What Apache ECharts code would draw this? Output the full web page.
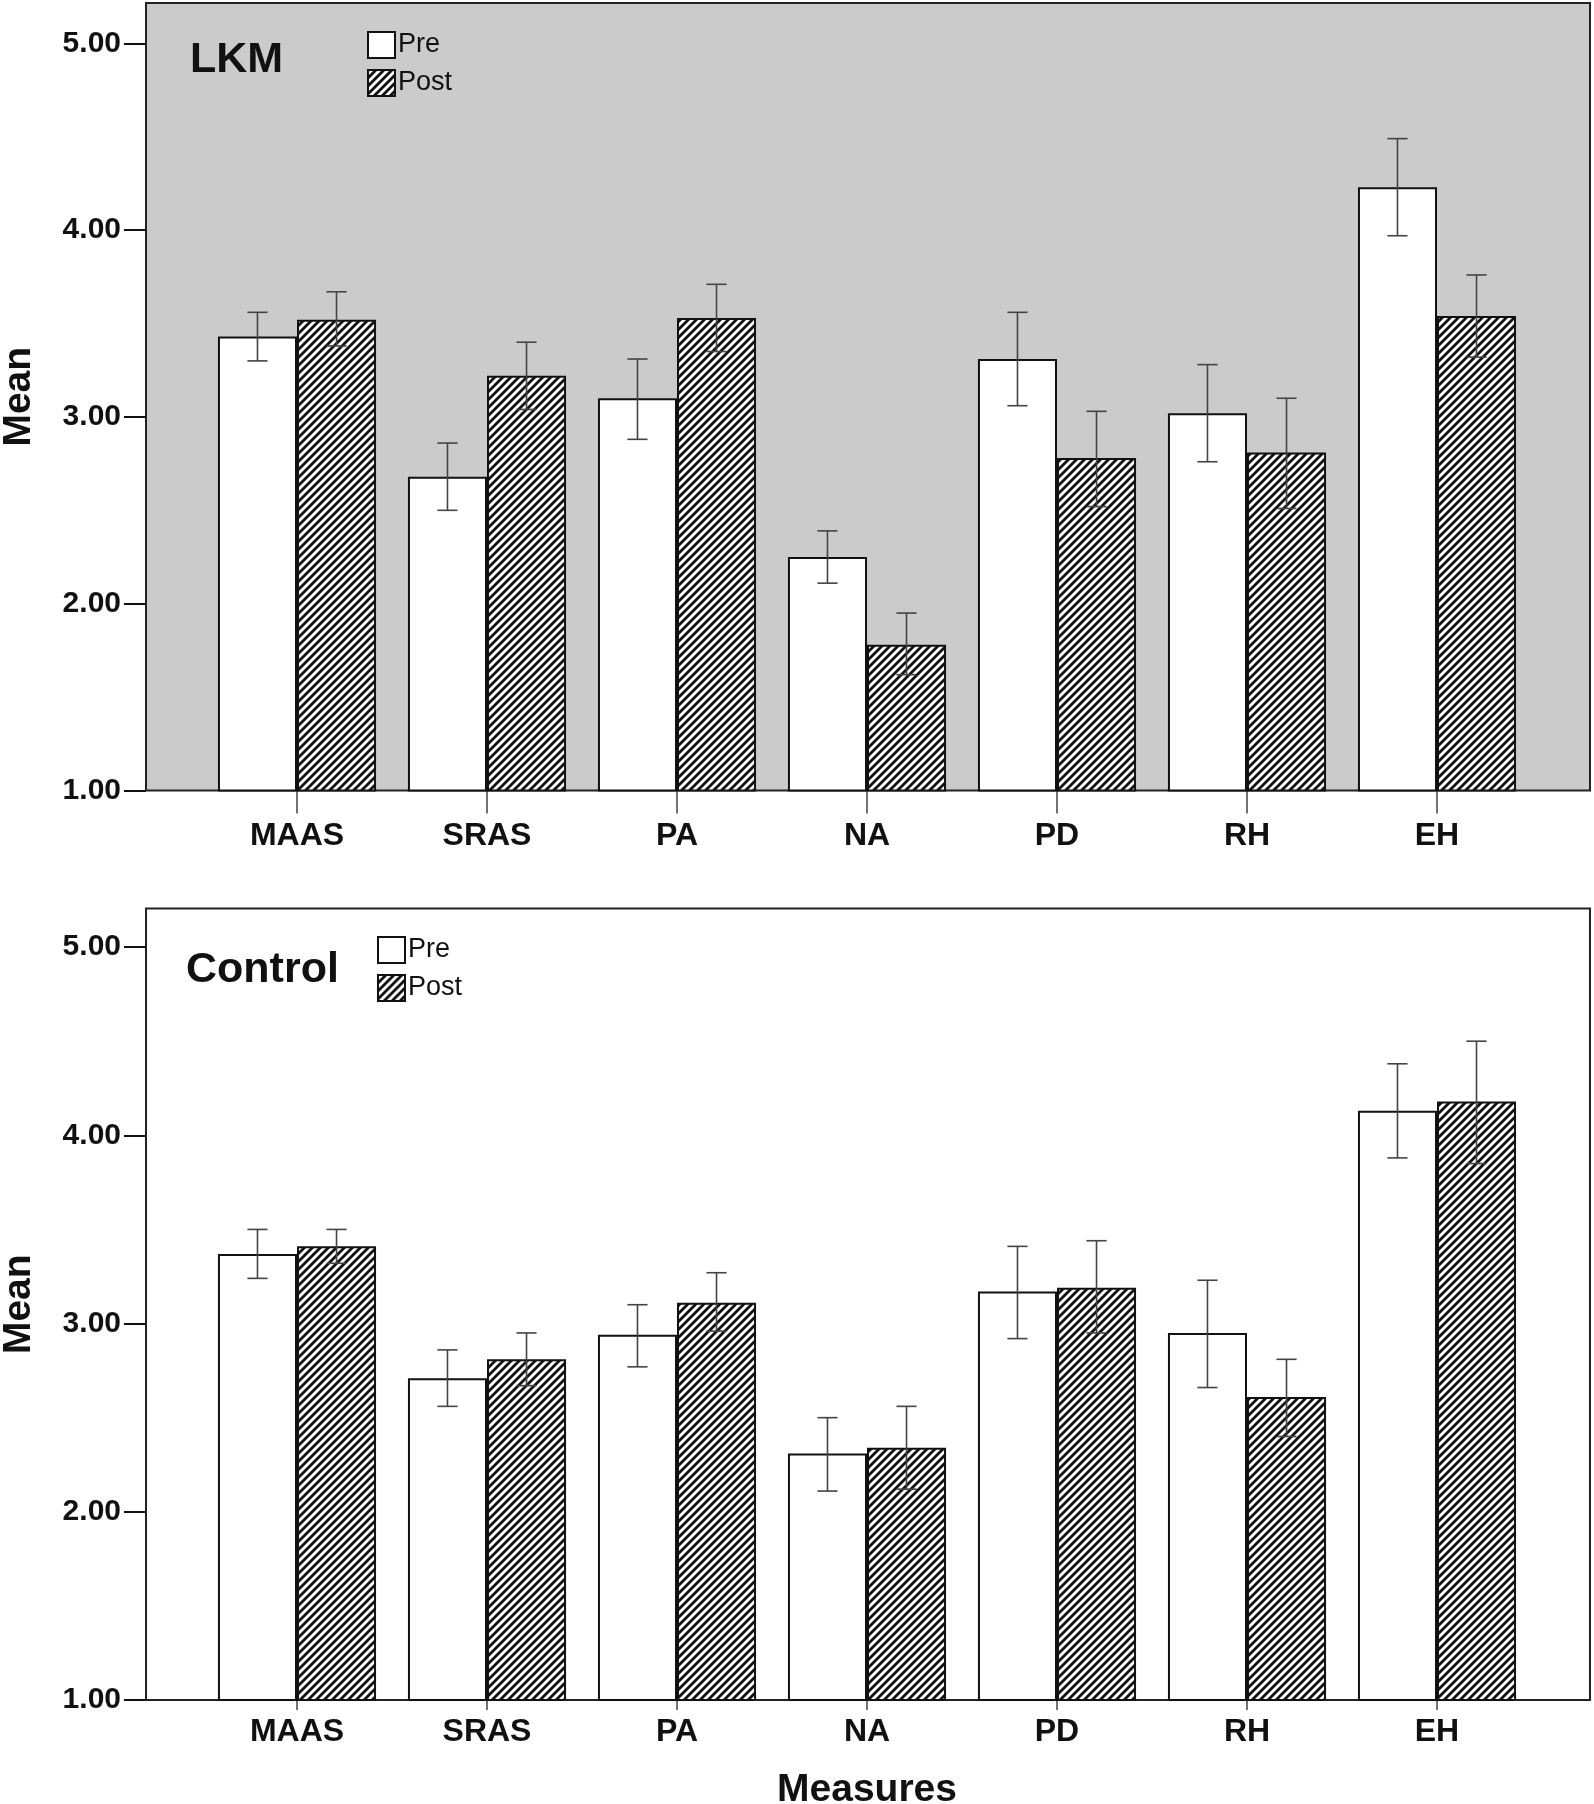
<!DOCTYPE html>
<html>
<head>
<meta charset="utf-8">
<script src="https://cdn.jsdelivr.net/npm/echarts@6/dist/echarts.min.js"></script>
<style>
html,body{margin:0;padding:0;background:#fff;}
#chart{width:1594px;height:1804px;}
</style>
</head>
<body>
<div id="chart"></div>
<script>
// ---------- data ----------
const categories = ['MAAS', 'SRAS', 'PA', 'NA', 'PD', 'RH', 'EH'];
const yTicks = [1, 2, 3, 4, 5];

const lkmPre      = [3.43, 2.68, 3.10, 2.25, 3.31, 3.02, 4.23];
const lkmPreLow   = [3.30, 2.50, 2.88, 2.11, 3.06, 2.76, 3.97];
const lkmPreHigh  = [3.56, 2.86, 3.31, 2.39, 3.56, 3.28, 4.49];
const lkmPost     = [3.52, 3.22, 3.53, 1.78, 2.78, 2.81, 3.54];
const lkmPostLow  = [3.38, 3.04, 3.35, 1.62, 2.52, 2.51, 3.32];
const lkmPostHigh = [3.67, 3.40, 3.71, 1.95, 3.03, 3.10, 3.76];

const ctlPre      = [3.37, 2.71, 2.94, 2.31, 3.17, 2.95, 4.13];
const ctlPreLow   = [3.24, 2.56, 2.77, 2.11, 2.92, 2.66, 3.88];
const ctlPreHigh  = [3.50, 2.86, 3.10, 2.50, 3.41, 3.23, 4.38];
const ctlPost     = [3.41, 2.81, 3.11, 2.34, 3.19, 2.61, 4.18];
const ctlPostLow  = [3.32, 2.67, 2.96, 2.12, 2.95, 2.40, 3.85];
const ctlPostHigh = [3.50, 2.95, 3.27, 2.56, 3.44, 2.81, 4.50];

// ---------- styling ----------
const FONT = '"Liberation Sans", Arial, sans-serif';
const BAR_FRAC = 0.416;           // bar width as fraction of category band
const TOP_MAX = 5.216, BOT_MAX = 5.205;

// hatch pattern for "Post"
const hatch = document.createElement('canvas');
hatch.width = 8; hatch.height = 8;
(function () {
  const c = hatch.getContext('2d');
  c.fillStyle = '#ffffff'; c.fillRect(0, 0, 8, 8);
  c.strokeStyle = '#111111'; c.lineWidth = 2.8; c.lineCap = 'square';
  for (let k = -8; k <= 8; k += 8) {
    c.beginPath(); c.moveTo(k - 1, 9); c.lineTo(k + 9, -1); c.stroke();
  }
})();
const hatchFill = { image: hatch, repeat: 'repeat' };

function errSeries(name, xi, yi, low, high, side) {
  return {
    type: 'custom', name: name, xAxisIndex: xi, yAxisIndex: yi, z: 5,
    silent: true,
    data: categories.map((c, i) => [i, low[i], high[i]]),
    renderItem: function (params, api) {
      const band = api.size([1, 0])[0];
      const off = side * band * BAR_FRAC / 2;
      const capHalf = band * 0.053;
      const lo = api.coord([api.value(0), api.value(1)]);
      const hi = api.coord([api.value(0), api.value(2)]);
      const x = lo[0] + off;
      const st = { stroke: '#444', lineWidth: 1.6 };
      return {
        type: 'group',
        children: [
          { type: 'line', shape: { x1: x, y1: lo[1], x2: x, y2: hi[1] }, style: st },
          { type: 'line', shape: { x1: x - capHalf, y1: hi[1], x2: x + capHalf, y2: hi[1] }, style: st },
          { type: 'line', shape: { x1: x - capHalf, y1: lo[1], x2: x + capHalf, y2: lo[1] }, style: st }
        ]
      };
    }
  };
}

function barSeries(name, xi, yi, values, fill) {
  return {
    type: 'bar', name: name, xAxisIndex: xi, yAxisIndex: yi,
    data: values, barWidth: (BAR_FRAC * 100) + '%', barGap: '0%',
    itemStyle: { color: fill, borderColor: '#111', borderWidth: 2 },
    z: 2
  };
}

function frameY(gridIndex, max) {
  return {
    gridIndex: gridIndex, type: 'value', min: 1, max: max,
    name: 'Mean', nameLocation: 'middle', nameGap: 107,
    nameTextStyle: { fontFamily: FONT, fontWeight: 'bold', fontSize: 39, color: '#111' },
    axisLine: { show: false },
    splitLine: { show: false },
    axisTick: { show: true, length: 22, customValues: yTicks, lineStyle: { color: '#111', width: 2 } },
    axisLabel: {
      show: true, customValues: yTicks, margin: 25,
      formatter: v => v.toFixed(2),
      fontFamily: FONT, fontWeight: 'bold', fontSize: 30, color: '#111',
      padding: [9, 0, 0, 0]
    }
  };
}

function innerY(gridIndex, max) {
  return { gridIndex: gridIndex, type: 'value', min: 1, max: max, show: false, splitLine: { show: false } };
}

function innerX(gridIndex, tickLen, labelMargin, extra) {
  return Object.assign({
    gridIndex: gridIndex, type: 'category', data: categories,
    axisLine: { show: false },
    axisTick: { show: true, alignWithLabel: true, length: tickLen, lineStyle: { color: '#444', width: 1.5 } },
    axisLabel: { margin: labelMargin, fontFamily: FONT, fontWeight: 'bold', fontSize: 32, color: '#111' },
    splitLine: { show: false }
  }, extra || {});
}

const legendCommon = {
  orient: 'vertical', icon: 'rect', itemWidth: 27, itemHeight: 26, itemGap: 10,
  padding: 0, selectedMode: false, data: ['Pre', 'Post'],
  itemStyle: { borderColor: '#111', borderWidth: 2 },
  textStyle: { fontFamily: FONT, fontSize: 27, color: '#111', padding: [0, 0, 0, -2] }
};

const gridCommon = { outerBoundsMode: 'none', containLabel: false };

const option = {
  animation: false,
  backgroundColor: '#ffffff',
  title: [
    { text: 'LKM', left: 190, top: 39, padding: 0,
      textStyle: { fontFamily: FONT, fontWeight: 'bold', fontSize: 43, color: '#111' } },
    { text: 'Control', left: 186, top: 949, padding: 0,
      textStyle: { fontFamily: FONT, fontWeight: 'bold', fontSize: 43, color: '#111' } }
  ],
  legend: [
    Object.assign({ left: 367, top: 31 }, legendCommon),
    Object.assign({ left: 377, top: 936 }, legendCommon)
  ],
  grid: [
    // top frame
    Object.assign({ left: 146, right: 4, top: 3, height: 787.5, show: true, backgroundColor: '#cbcbcb', borderColor: '#222', borderWidth: 2 }, gridCommon),
    // top inner
    Object.assign({ left: 202, right: 62, top: 3, height: 787.5, show: false }, gridCommon),
    // bottom frame
    Object.assign({ left: 146, right: 4, top: 908.5, height: 791.5, show: true, backgroundColor: '#ffffff', borderColor: '#222', borderWidth: 2 }, gridCommon),
    // bottom inner
    Object.assign({ left: 202, right: 62, top: 908.5, height: 791.5, show: false }, gridCommon)
  ],
  xAxis: [
    { gridIndex: 0, type: 'category', data: categories, show: false },
    innerX(1, 23, 30),
    { gridIndex: 2, type: 'category', data: categories, show: false },
    innerX(3, 10, 16, {
      name: 'Measures', nameLocation: 'middle', nameGap: 71,
      nameTextStyle: { fontFamily: FONT, fontWeight: 'bold', fontSize: 39, color: '#111' }
    })
  ],
  yAxis: [
    frameY(0, TOP_MAX),
    innerY(1, TOP_MAX),
    frameY(2, BOT_MAX),
    innerY(3, BOT_MAX)
  ],
  series: [
    barSeries('Pre', 1, 1, lkmPre, '#ffffff'),
    barSeries('Post', 1, 1, lkmPost, hatchFill),
    errSeries('Pre error LKM', 1, 1, lkmPreLow, lkmPreHigh, -1),
    errSeries('Post error LKM', 1, 1, lkmPostLow, lkmPostHigh, 1),
    barSeries('Pre', 3, 3, ctlPre, '#ffffff'),
    barSeries('Post', 3, 3, ctlPost, hatchFill),
    errSeries('Pre error Control', 3, 3, ctlPreLow, ctlPreHigh, -1),
    errSeries('Post error Control', 3, 3, ctlPostLow, ctlPostHigh, 1)
  ]
};

const chart = echarts.init(document.getElementById('chart'), null, { renderer: 'canvas' });
chart.setOption(option);
</script>
</body>
</html>
